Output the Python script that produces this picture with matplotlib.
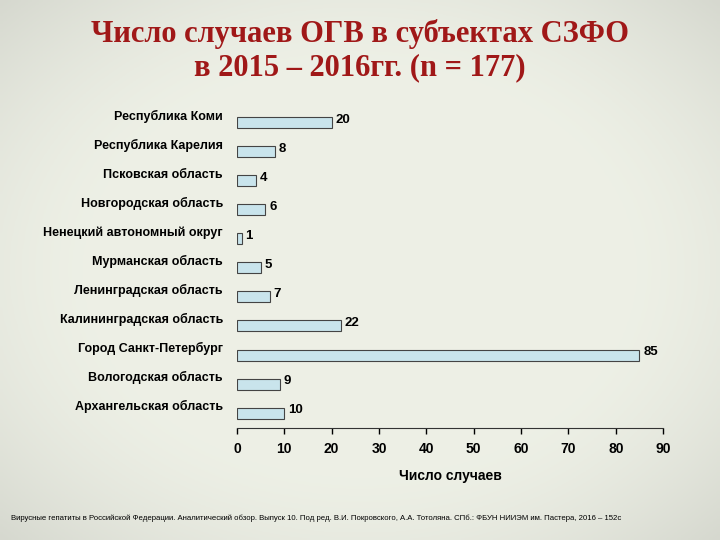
import matplotlib
matplotlib.use("Agg")
import matplotlib.pyplot as plt
import numpy as np

plt.rcParams['font.family'] = ['Liberation Sans', 'DejaVu Sans']

categories = ["Республика Коми", "Республика Карелия", "Псковская область", "Новгородская область",
              "Ненецкий автономный округ", "Мурманская область", "Ленинградская область",
              "Калининградская область", "Город Санкт-Петербург", "Вологодская область",
              "Архангельская область"]
values = [20, 8, 4, 6, 1, 5, 7, 22, 85, 9, 10]
xticks = [0, 10, 20, 30, 40, 50, 60, 70, 80, 90]

fig = plt.figure(figsize=(7.2, 5.4), dpi=100)
bg = fig.add_axes([0, 0, 1, 1], zorder=-10)
yy, xx = np.mgrid[-1:1:200j, -1:1:200j]
r = np.sqrt(xx**2 + yy**2)
shade = np.clip(1 - 0.18 * np.clip(r - 0.75, 0, None)**1.5, 0, 1)
img = np.dstack([0.93 * shade, 0.94 * shade, 0.90 * shade])
bg.imshow(img, aspect="auto", extent=[0, 1, 0, 1])
bg.axis("off")

fig.text(0.5, 0.965, "Число случаев ОГВ в субъектах СЗФО\nв 2015 – 2016гг. (n = 177)",
         ha="center", va="top", color="#a01818", fontsize=22, family="Liberation Serif",
         fontweight="bold", linespacing=1.2)

ax = fig.add_axes([0.329, 0.208, 0.592, 0.592])
ax.set_facecolor("none")
y = np.arange(len(categories))
ax.barh(y, values, height=0.38, color="#c9e4ec", edgecolor="#444444", linewidth=0.8)
for yi, v in zip(y, values):
    ax.text(v + 0.8, yi - 0.1, str(v), va="center", ha="left", fontsize=9.5, fontweight="bold")
ax.set_ylim(len(categories) - 0.5, -0.5)
ax.set_xlim(0, 90)
ax.set_xticks(xticks)
ax.set_yticks(y)
ax.set_yticklabels(categories, fontsize=9, fontweight="bold")
for lbl in ax.get_yticklabels():
    lbl.set_verticalalignment("bottom")
ax.tick_params(axis="y", length=0, pad=10)
ax.tick_params(axis="x", labelsize=10, width=1, length=4, pad=6)
for lbl in ax.get_xticklabels():
    lbl.set_fontweight("bold")
for s in ["top", "right", "left"]:
    ax.spines[s].set_visible(False)
ax.spines["bottom"].set_color("#333333")
ax.set_xlabel("Число случаев", fontsize=10, fontweight="bold", labelpad=10)

fig.text(0.015, 0.04, "Вирусные гепатиты в Российской Федерации. Аналитический обзор. Выпуск 10. Под ред. В.И. Покровского, А.А. Тотоляна. СПб.: ФБУН НИИЭМ им. Пастера, 2016 – 152с",
         fontsize=5.6, va="center", ha="left")
fig.savefig("out.png", dpi=100)
